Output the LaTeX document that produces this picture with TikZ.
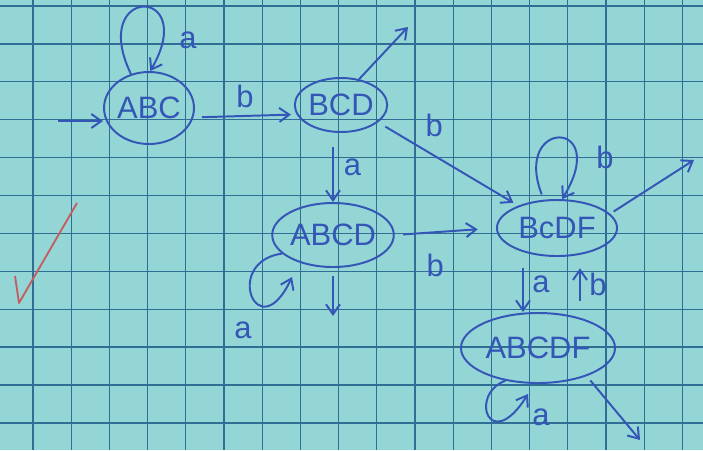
\documentclass[tikz,border=0pt]{standalone}
\usepackage{fontspec}
\setmainfont{Liberation Sans}
\usetikzlibrary{arrows.meta,shapes.geometric}
\definecolor{paper}{RGB}{148,214,214}
\definecolor{gridline}{RGB}{48,110,150}
\definecolor{ink}{RGB}{52,86,182}
\definecolor{tick}{RGB}{196,92,96}
\tikzset{st/.style={draw=ink,ellipse,line width=1.4pt,inner sep=0pt,text=ink,
 font=\fontsize{22}{22}\selectfont},
 arr/.style={-{Straight Barb[length=2.5mm,width=3.5mm]},draw=ink,line width=1.4pt},
 lbl/.style={text=ink,font=\fontsize{22}{22}\selectfont,inner sep=1pt}}

\begin{document}
\begin{tikzpicture}[x=0.025cm,y=-0.025cm]
\useasboundingbox (0,0) rectangle (703,450);
\fill[paper] (0,0) rectangle (703,450);
\foreach \k in {0,...,17} \draw[gridline,line width=0.9pt] (33+38.2*\k,0) -- (33+38.2*\k,450);
\foreach \k in {0,...,11} \draw[gridline,line width=0.9pt] (0,6+37.9*\k) -- (703,6+37.9*\k);
% states
\node[st,minimum width=2.1cm,minimum height=1.8cm] (abc) at (149,108) {ABC};
\node[st,minimum width=2.3cm,minimum height=1.35cm] (bcd) at (341,105) {BCD};
\node[st,minimum width=2.95cm,minimum height=1.6cm] (abcd) at (333,235) {ABCD};
\node[st,minimum width=3cm,minimum height=1.4cm] (bcdf) at (557,228) {BcDF};
\node[st,minimum width=3.85cm,minimum height=1.75cm] (abcdf) at (538,348) {ABCDF};
\coordinate (in) at (58,121);
\coordinate (bcdout) at (408,27);
\coordinate (abcdout) at (333,316);
\coordinate (bcdfout) at (694,160);
\coordinate (abcdfout) at (640,440);
\coordinate (abcdloop) at (292,277);
\coordinate (abcdfloop) at (528,394);
% transitions
\draw[arr] (in) -- (in -| abc.west);
\draw[arr] (abc.118) .. controls (88,-15) and (200,-15) .. (abc.88);
\node[lbl] (la1) at (188,40) {a};
\draw[arr,shorten <=6pt,shorten >=4pt] (abc.-12) -- node[lbl,above=4pt] (lb1) {b} (bcd.192);
\draw[arr] (bcd.55) -- (bcdout);
\draw[arr,shorten <=6pt,shorten >=4pt] (bcd.-25) -- node[lbl,pos=.4,above=12pt] (lb2) {b} (bcdf.150);
\draw[arr,shorten <=10pt] (abcd.north |- bcd.south) -- node[lbl,right=6pt] (la3) {a} (abcd.north);
\draw[arr,shorten <=6pt,shorten >=13pt] (abcd.east) -- node[lbl,pos=.4,below=14pt] (lb4) {b} (bcdf.west);
\draw[arr] (abcd.200) .. controls (222,262) and (258,350) .. (abcdloop);
\node[lbl] (la2) at (243,330) {a};
\draw[arr,shorten <=6pt] (abcd.south) -- (abcdout);
\draw[arr,shorten <=4pt] (bcdf.115) .. controls (512,118) and (612,118) .. (bcdf.80);
\node[lbl] (lb7) at (605,157) {b};
\draw[arr,shorten <=3pt] (bcdf.15) -- (bcdfout);
\draw[arr,shorten <=8pt] ([xshift=-0.85cm]bcdf.south) -- node[lbl,right=5pt] (la5) {a} ([xshift=-0.85cm]bcdf.south |- abcdf.north);
\draw[arr,shorten <=8pt,shorten >=8pt] ([xshift=0.575cm]bcdf.south |- abcdf.north) -- node[lbl,right=5pt] (lb6) {b} ([xshift=0.575cm]bcdf.south);
\draw[arr] (abcdf.225) .. controls (468,395) and (490,455) .. (abcdfloop);
\node[lbl] (la4) at (541,417) {a};
\draw[arr,shorten <=4pt] (abcdf.-30) -- (abcdfout);
% check mark
\draw[tick,line width=1.3pt,line join=round] (15,276) -- (19,303) -- (77,203);
\end{tikzpicture}
\end{document}
